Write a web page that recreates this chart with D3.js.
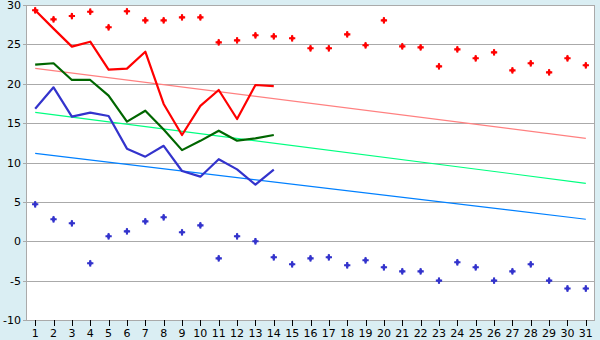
<!DOCTYPE html>
<html><head><meta charset="utf-8">
<script src="https://cdn.jsdelivr.net/npm/d3@7"></script>
<style>html,body{margin:0;padding:0;background:#daeef3;}svg{display:block;}</style>
</head><body>
<svg id="c" width="600" height="340"></svg>
<script>
const days = d3.range(1, 32).map(String);
const yTicks = [-10, -5, 0, 5, 10, 15, 20, 25, 30];
const recordMax = [29.33,28.18,28.6,29.15,27.17,29.2,28.05,28.05,28.43,28.43,25.26,25.51,26.15,26.02,25.77,24.5,24.5,26.27,24.88,28.05,24.75,24.62,22.21,24.37,23.23,23.99,21.7,22.6,21.45,23.23,22.34];
const recordMin = [4.69,2.79,2.28,-2.8,0.63,1.26,2.53,3.04,1.14,2.02,-2.17,0.63,0.0,-2.04,-2.93,-2.17,-2.04,-3.05,-2.42,-3.31,-3.82,-3.82,-5.0,-2.67,-3.31,-5.0,-3.82,-2.93,-5.0,-6.0,-6.0];
const dailyMax = [29.33,27.0,24.71,25.34,21.79,21.92,24.07,17.43,13.49,17.2,19.21,15.52,19.84,19.71];
const dailyMean = [22.42,22.6,20.48,20.48,18.49,15.19,16.58,14.2,11.57,12.75,14.04,12.77,13.07,13.49];
const dailyMin = [16.83,19.55,15.82,16.33,15.9,11.76,10.74,12.12,8.92,8.2,10.42,9.13,7.18,9.1];
const trendDays = ["1", "31"];
const trendMax = [21.96, 13.07];
const trendMean = [16.37, 7.36];
const trendMin = [11.16, 2.79];

const svg = d3.select("#c");
const L = 26, R = 595, T = 5, B = 320;
const x = d3.scalePoint().domain(days).range([L, R]).padding(0.5);
const y = d3.scaleLinear().domain([-10, 30]).range([B, T]);

svg.append("rect").attr("x", L).attr("y", T).attr("width", R - L).attr("height", B - T).attr("fill", "#fff");

// gridlines
svg.append("g").selectAll("line").data(yTicks).join("line")
  .attr("x1", L - 3).attr("x2", R).attr("y1", d => Math.round(y(d)) + 0.5).attr("y2", d => Math.round(y(d)) + 0.5)
  .attr("stroke", "#aaaaaa").attr("stroke-width", 1);
// frame
svg.append("rect").attr("x", L + 0.5).attr("y", T + 0.5).attr("width", R - L - 1).attr("height", B - T)
  .attr("fill", "none").attr("stroke", "#aaaaaa");

// y labels
svg.append("g").selectAll("text").data(yTicks).join("text")
  .attr("x", 21).attr("y", d => y(d) + 4)
  .attr("text-anchor", "end").attr("font-family", "DejaVu Sans").attr("font-size", 11).attr("fill", "#000")
  .text(d => d3.format("d")(d).replace("−", "-"));

// x axis ticks and labels
const xg = svg.append("g");
xg.selectAll("line").data(days).join("line")
  .attr("x1", d => Math.round(x(d)) + 0.5).attr("x2", d => Math.round(x(d)) + 0.5)
  .attr("y1", B).attr("y2", B + 6).attr("stroke", "#000");
xg.selectAll("text").data(days).join("text")
  .attr("x", d => x(d)).attr("y", 337).attr("text-anchor", "middle")
  .attr("font-family", "DejaVu Sans").attr("font-size", 11).attr("fill", "#000").text(d => d);

// trend lines
const lineGen = d3.line().x(d => x(d[0])).y(d => y(d[1]));
function trend(vals, color) {
  svg.append("path").datum(trendDays.map((d, i) => [d, vals[i]]))
    .attr("d", lineGen).attr("fill", "none").attr("stroke", color).attr("stroke-width", 1.2);
}
trend(trendMax, "#ff8080");
trend(trendMean, "#00ff80");
trend(trendMin, "#0080ff");

function series(vals, color) {
  svg.append("path").datum(vals.map((v, i) => [days[i], v]))
    .attr("d", lineGen).attr("fill", "none").attr("stroke", color).attr("stroke-width", 2.2)
    .attr("stroke-linejoin", "round");
}
series(dailyMax, "#ff0000");
series(dailyMean, "#006600");
series(dailyMin, "#3333cc");

const symC = d3.symbol().type(d3.symbolCross).size(22);
const symD = d3.symbol().type(d3.symbolDiamond).size(14);
function marks(vals, color) {
  const g = svg.append("g").selectAll("g").data(vals).join("g")
    .attr("transform", (v, i) => `translate(${x(days[i])},${y(v)})`);
  g.append("path").attr("d", symC).attr("fill", color);
  g.append("path").attr("d", symD).attr("fill", color);
}
marks(recordMax, "#ff0000");
marks(recordMin, "#3333cc");
</script>
</body></html>
